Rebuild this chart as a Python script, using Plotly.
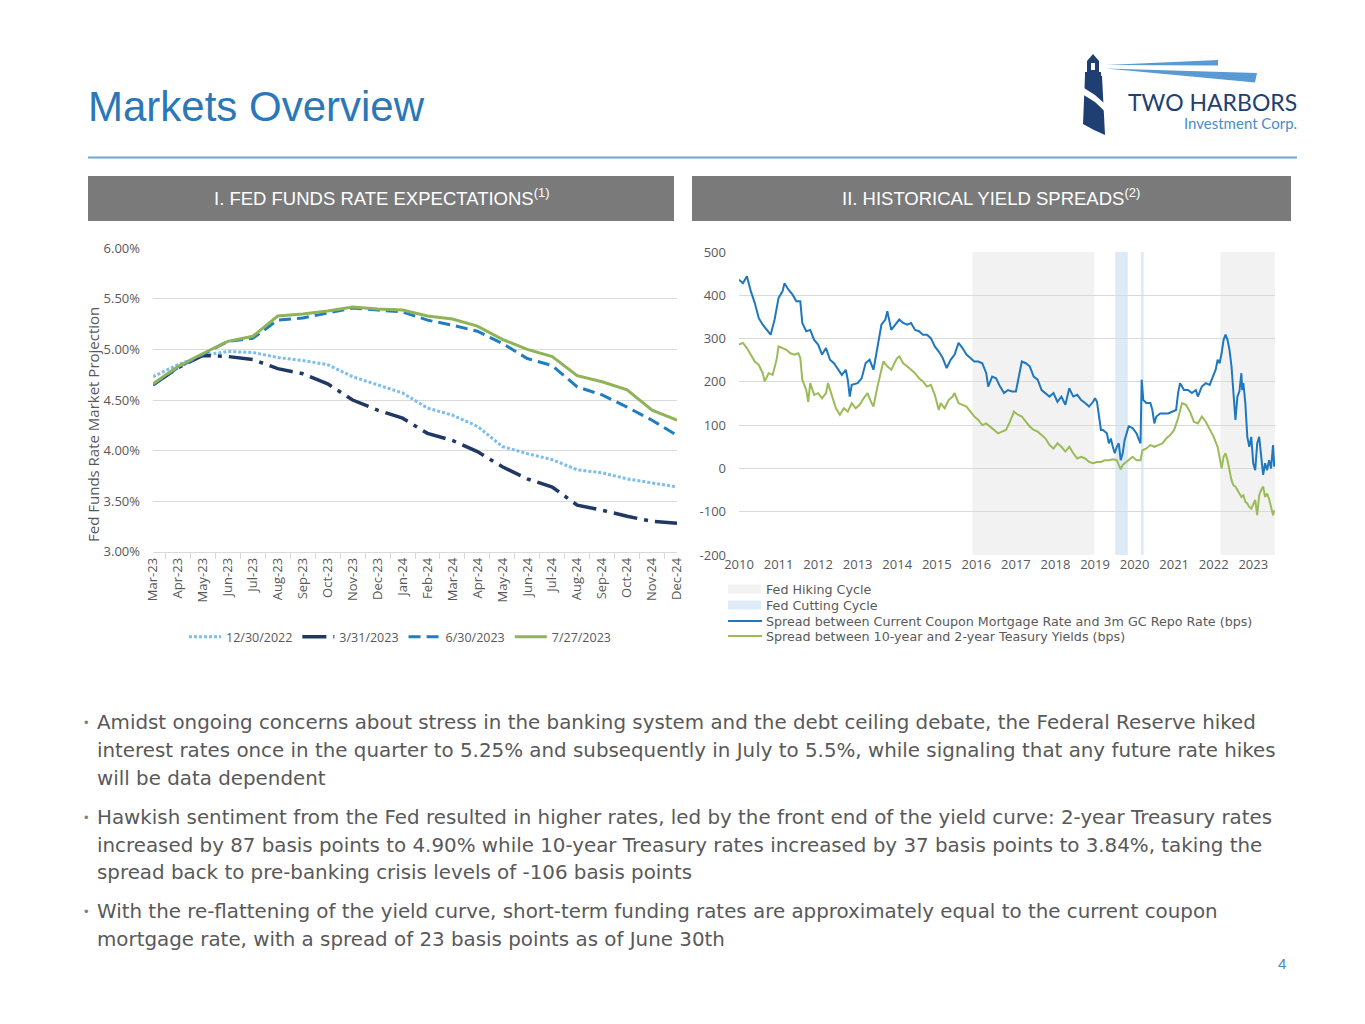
import plotly.graph_objects as go

# The page body adds an 8px margin, so the figure is sized to fill the rest of the window
OFF = 8
W, H = 1365 - OFF, 1024 - OFF

# ---------------- DATA ----------------
months = ["Mar-23", "Apr-23", "May-23", "Jun-23", "Jul-23", "Aug-23", "Sep-23", "Oct-23",
          "Nov-23", "Dec-23", "Jan-24", "Feb-24", "Mar-24", "Apr-24", "May-24", "Jun-24",
          "Jul-24", "Aug-24", "Sep-24", "Oct-24", "Nov-24", "Dec-24"]
fed_1230_2022 = [4.73, 4.85, 4.94, 4.98, 4.97, 4.92, 4.89, 4.85, 4.73, 4.65, 4.57, 4.42,
                 4.35, 4.24, 4.04, 3.97, 3.91, 3.81, 3.78, 3.72, 3.68, 3.64]
fed_0331_2023 = [4.65, 4.82, 4.94, 4.93, 4.90, 4.81, 4.76, 4.66, 4.50, 4.40, 4.32, 4.17,
                 4.10, 3.99, 3.84, 3.72, 3.64, 3.46, 3.41, 3.35, 3.30, 3.28]
fed_0630_2023 = [4.65, 4.82, 4.95, 5.08, 5.11, 5.29, 5.31, 5.36, 5.41, 5.39, 5.37, 5.29,
                 5.24, 5.18, 5.06, 4.91, 4.84, 4.63, 4.55, 4.43, 4.30, 4.15]
fed_0727_2023 = [4.66, 4.83, 4.96, 5.08, 5.13, 5.33, 5.35, 5.38, 5.42, 5.40, 5.39, 5.33,
                 5.30, 5.23, 5.10, 5.00, 4.93, 4.74, 4.68, 4.60, 4.40, 4.30]
fed_ticks = [3.0, 3.5, 4.0, 4.5, 5.0, 5.5, 6.0]

mtg_x = [2010.0, 2010.1, 2010.2, 2010.3, 2010.4, 2010.5, 2010.6, 2010.7, 2010.8, 2010.9,
         2011.0, 2011.1, 2011.15, 2011.25, 2011.35, 2011.45, 2011.55, 2011.6, 2011.7, 2011.8,
         2011.9, 2012.0, 2012.1, 2012.2, 2012.3, 2012.4, 2012.5, 2012.6, 2012.7, 2012.75,
         2012.8, 2012.85, 2013.0, 2013.1, 2013.2, 2013.3, 2013.4, 2013.5, 2013.6, 2013.7,
         2013.75, 2013.85, 2013.95, 2014.05, 2014.15, 2014.25, 2014.35, 2014.45, 2014.55, 2014.65,
         2014.75, 2014.85, 2014.95, 2015.05, 2015.15, 2015.25, 2015.35, 2015.45, 2015.55, 2015.65,
         2015.75, 2015.85, 2015.95, 2016.05, 2016.15, 2016.25, 2016.3, 2016.4, 2016.5, 2016.6,
         2016.7, 2016.8, 2016.9, 2017.0, 2017.1, 2017.15, 2017.25, 2017.35, 2017.45, 2017.55,
         2017.65, 2017.75, 2017.85, 2017.95, 2018.05, 2018.15, 2018.25, 2018.35, 2018.45, 2018.55,
         2018.65, 2018.75, 2018.85, 2018.95, 2019.0, 2019.05, 2019.1, 2019.15, 2019.2, 2019.3,
         2019.35, 2019.4, 2019.45, 2019.5, 2019.55, 2019.6, 2019.65, 2019.7, 2019.75, 2019.85,
         2019.95, 2020.05, 2020.1, 2020.15, 2020.18, 2020.22, 2020.3, 2020.4, 2020.45, 2020.5,
         2020.55, 2020.65, 2020.75, 2020.85, 2020.95, 2021.05, 2021.1, 2021.15, 2021.25, 2021.35,
         2021.45, 2021.55, 2021.6, 2021.7, 2021.8, 2021.9, 2021.95, 2022.05, 2022.1, 2022.15,
         2022.2, 2022.25, 2022.3, 2022.35, 2022.4, 2022.45, 2022.5, 2022.55, 2022.6, 2022.65,
         2022.7, 2022.72, 2022.75, 2022.8, 2022.85, 2022.9, 2022.95, 2023.0, 2023.05, 2023.1,
         2023.15, 2023.2, 2023.25, 2023.3, 2023.35, 2023.4, 2023.45, 2023.5, 2023.53]
mtg_spread = [436, 428, 444, 409, 382, 347, 332, 320, 309, 344,
              394, 409, 428, 413, 402, 386, 386, 336, 317, 320,
              297, 286, 263, 278, 251, 243, 228, 216, 228, 205,
              166, 193, 197, 208, 243, 251, 228, 282, 332, 344,
              363, 320, 332, 344, 336, 332, 336, 320, 317, 309,
              309, 301, 282, 270, 255, 232, 251, 263, 290, 278,
              263, 255, 247, 247, 243, 220, 189, 212, 208, 189,
              174, 181, 178, 178, 228, 247, 243, 236, 212, 205,
              181, 174, 166, 174, 154, 166, 147, 185, 166, 170,
              158, 151, 143, 154, 162, 154, 120, 89, 89, 81,
              58, 69, 50, 35, 50, 58, 19, 35, 66, 97,
              93, 81, 69, 58, 205, 158, 151, 151, 135, 104,
              120, 127, 127, 127, 131, 135, 174, 197, 181, 181,
              174, 181, 166, 189, 197, 193, 205, 228, 251, 243,
              266, 297, 309, 297, 274, 236, 174, 112, 166, 178,
              220, 181, 197, 151, 73, 50, 73, 12, -4, 58,
              73, 19, -15, 12, -4, 19, 0, 54, 4]

tsy_x = [2010.0, 2010.1, 2010.2, 2010.3, 2010.4, 2010.5, 2010.6, 2010.65, 2010.75, 2010.85,
         2010.95, 2011.0, 2011.1, 2011.2, 2011.3, 2011.4, 2011.5, 2011.55, 2011.6, 2011.7,
         2011.75, 2011.8, 2011.9, 2012.0, 2012.1, 2012.2, 2012.25, 2012.35, 2012.45, 2012.55,
         2012.65, 2012.75, 2012.85, 2012.95, 2013.05, 2013.15, 2013.25, 2013.35, 2013.4, 2013.5,
         2013.6, 2013.65, 2013.75, 2013.85, 2013.95, 2014.0, 2014.05, 2014.15, 2014.25, 2014.35,
         2014.45, 2014.55, 2014.65, 2014.75, 2014.85, 2014.95, 2015.05, 2015.1, 2015.2, 2015.3,
         2015.4, 2015.45, 2015.55, 2015.65, 2015.75, 2015.85, 2015.95, 2016.05, 2016.15, 2016.25,
         2016.35, 2016.45, 2016.55, 2016.65, 2016.75, 2016.85, 2016.95, 2017.05, 2017.15, 2017.25,
         2017.35, 2017.45, 2017.55, 2017.65, 2017.75, 2017.85, 2017.95, 2018.05, 2018.15, 2018.25,
         2018.35, 2018.45, 2018.55, 2018.65, 2018.75, 2018.85, 2018.95, 2019.05, 2019.15, 2019.25,
         2019.35, 2019.45, 2019.55, 2019.6, 2019.65, 2019.7, 2019.75, 2019.85, 2019.95, 2020.05,
         2020.15, 2020.2, 2020.3, 2020.4, 2020.5, 2020.6, 2020.7, 2020.8, 2020.9, 2021.0,
         2021.1, 2021.2, 2021.3, 2021.4, 2021.5, 2021.6, 2021.7, 2021.8, 2021.9, 2022.0,
         2022.1, 2022.15, 2022.2, 2022.25, 2022.3, 2022.35, 2022.4, 2022.45, 2022.5, 2022.55,
         2022.6, 2022.65, 2022.7, 2022.75, 2022.8, 2022.85, 2022.9, 2022.95, 2023.05, 2023.1,
         2023.15, 2023.2, 2023.25, 2023.3, 2023.35, 2023.4, 2023.45, 2023.5, 2023.53]
tsy_spread = [286, 290, 278, 263, 247, 239, 220, 201, 220, 216,
              251, 282, 278, 274, 266, 263, 266, 255, 205, 181,
              154, 197, 170, 174, 162, 174, 197, 166, 139, 124,
              139, 131, 151, 139, 147, 162, 174, 151, 143, 189,
              224, 247, 236, 228, 247, 255, 259, 243, 236, 228,
              220, 208, 201, 189, 193, 170, 135, 151, 139, 158,
              166, 174, 151, 147, 143, 131, 120, 112, 100, 104,
              97, 89, 81, 85, 89, 108, 131, 124, 120, 108,
              97, 89, 85, 77, 69, 54, 46, 58, 50, 39,
              50, 35, 23, 27, 23, 15, 12, 15, 15, 19,
              19, 21, 19, 8, -2, 8, 12, 19, 27, 19,
              19, 42, 46, 54, 50, 54, 58, 69, 77, 89,
              116, 151, 147, 131, 108, 104, 120, 108, 89, 73,
              50, 27, 0, 27, 35, 19, -4, -27, -39, -42,
              -50, -58, -66, -62, -77, -81, -89, -93, -73, -108,
              -62, -50, -42, -66, -58, -70, -89, -108, -97]

years = list(range(2010, 2024))
spread_ticks = [-200, -100, 0, 100, 200, 300, 400, 500]
hiking_start = [2015.9, 2022.17]
hiking_end = [2018.98, 2023.55]
cutting_start = [2019.51, 2020.16]
cutting_end = [2019.83, 2020.23]

legend2_names = ["Fed Hiking Cycle", "Fed Cutting Cycle",
                 "Spread between Current Coupon Mortgage Rate and 3m GC Repo Rate (bps)",
                 "Spread between 10-year and 2-year Teasury Yields (bps)"]

bullets = [
    ["Amidst ongoing concerns about stress in the banking system and the debt ceiling debate, the Federal Reserve hiked",
     "interest rates once in the quarter to 5.25% and subsequently in July to 5.5%, while signaling that any future rate hikes",
     "will be data dependent"],
    ["Hawkish sentiment from the Fed resulted in higher rates, led by the front end of the yield curve: 2-year Treasury rates",
     "increased by 87 basis points to 4.90% while 10-year Treasury rates increased by 37 basis points to 3.84%, taking the",
     "spread back to pre-banking crisis levels of -106 basis points"],
    ["With the re-flattening of the yield curve, short-term funding rates are approximately equal to the current coupon",
     "mortgage rate, with a spread of 23 basis points as of June 30th"],
]


# ---------------- HELPERS (window pixels -> paper fractions) ----------------
def px(x):
    return (x - OFF) / W


def py(y):
    return 1 - (y - OFF) / H


def path(points):
    return "M " + " L ".join(f"{px(a):.5f},{py(b):.5f}" for a, b in points) + " Z"


GRAY_TXT = "#595959"
GRID = "#D9D9D9"
C_MTG = "#1F77BE"
C_TSY = "#9BBB59"
C_HIKE = "#F2F2F2"
C_CUT = "#DEEBF7"

fig = go.Figure()

# ---------------- LEFT CHART ----------------
fig.add_trace(go.Scatter(x=months, y=fed_1230_2022, name="12/30/2022", mode="lines",
                         line=dict(color="#7DBEEA", width=3, dash="3px,2px"),
                         xaxis="x", yaxis="y"))
fig.add_trace(go.Scatter(x=months, y=fed_0331_2023, name="3/31/2023", mode="lines",
                         line=dict(color="#1F3864", width=3.5, dash="24px,7px,4px,7px"),
                         xaxis="x", yaxis="y"))
fig.add_trace(go.Scatter(x=months, y=fed_0630_2023, name="6/30/2023", mode="lines",
                         line=dict(color="#1F7DC1", width=3, dash="12px,6px"),
                         xaxis="x", yaxis="y"))
fig.add_trace(go.Scatter(x=months, y=fed_0727_2023, name="7/27/2023", mode="lines",
                         line=dict(color="#8FB356", width=3),
                         xaxis="x", yaxis="y"))

# ---------------- RIGHT CHART ----------------
fig.add_trace(go.Scatter(x=mtg_x, y=mtg_spread, mode="lines", name=legend2_names[2],
                         line=dict(color=C_MTG, width=2), showlegend=False,
                         xaxis="x2", yaxis="y2"))
fig.add_trace(go.Scatter(x=tsy_x, y=tsy_spread, mode="lines", name=legend2_names[3],
                         line=dict(color=C_TSY, width=2), showlegend=False,
                         xaxis="x2", yaxis="y2"))

shapes = []
for s, e in zip(hiking_start, hiking_end):
    shapes.append(dict(type="rect", xref="x2", yref="y2 domain", x0=s, x1=e, y0=0, y1=1,
                       fillcolor=C_HIKE, line=dict(width=0), layer="below"))
for s, e in zip(cutting_start, cutting_end):
    shapes.append(dict(type="rect", xref="x2", yref="y2 domain", x0=s, x1=e, y0=0, y1=1,
                       fillcolor=C_CUT, line=dict(width=0), layer="below"))

annotations = []

# right-chart legend (compact, Excel-like line spacing)
leg_rows = [589, 605, 621, 636]
leg_kinds = [("box", C_HIKE), ("box", C_CUT), ("line", C_MTG), ("line", C_TSY)]
for name, yy, (kind, col) in zip(legend2_names, leg_rows, leg_kinds):
    if kind == "box":
        shapes.append(dict(type="rect", xref="paper", yref="paper", x0=px(728), x1=px(761),
                           y0=py(yy + 4.5), y1=py(yy - 4.5), fillcolor=col, line=dict(width=0)))
    else:
        shapes.append(dict(type="line", xref="paper", yref="paper", x0=px(728), x1=px(762),
                           y0=py(yy), y1=py(yy), line=dict(color=col, width=2)))
    annotations.append(dict(text=name, xref="paper", yref="paper", x=px(764), y=py(yy),
                            xanchor="left", yanchor="middle", showarrow=False,
                            font=dict(family="DejaVu Sans, sans-serif", size=12.7, color=GRAY_TXT)))

# ---------------- SLIDE DECORATION ----------------
shapes.append(dict(type="line", xref="paper", yref="paper", x0=px(88), x1=px(1297),
                   y0=py(157.5), y1=py(157.5), line=dict(color="#6FA8D6", width=2)))
shapes.append(dict(type="rect", xref="paper", yref="paper", x0=px(88), x1=px(674),
                   y0=py(221), y1=py(176), fillcolor="#7A7A7A", line=dict(width=0)))
shapes.append(dict(type="rect", xref="paper", yref="paper", x0=px(692), x1=px(1291),
                   y0=py(221), y1=py(176), fillcolor="#7A7A7A", line=dict(width=0)))
BEAM = "#5A9AD2"
NAVY = "#1F3F73"
shapes.append(dict(type="path", xref="paper", yref="paper",
                   path=path([(1106, 65), (1218, 60), (1218, 65.5)]),
                   fillcolor=BEAM, line=dict(width=0)))
shapes.append(dict(type="path", xref="paper", yref="paper",
                   path=path([(1106, 68.5), (1257, 73), (1255, 82.5)]),
                   fillcolor=BEAM, line=dict(width=0)))
shapes.append(dict(type="path", xref="paper", yref="paper",
                   path=path([(1093, 54), (1099, 61), (1099, 72), (1101, 72), (1101, 76),
                              (1102, 76), (1105, 135), (1094, 130), (1083, 124), (1085, 76),
                              (1085, 72), (1087, 72), (1087, 61)]),
                   fillcolor=NAVY, line=dict(width=0)))
shapes.append(dict(type="path", xref="paper", yref="paper",
                   path=path([(1084, 88), (1095, 95), (1104, 103), (1104.4, 111),
                              (1095, 102), (1083.7, 95)]),
                   fillcolor="white", line=dict(width=0)))
shapes.append(dict(type="rect", xref="paper", yref="paper", x0=px(1091), x1=px(1095),
                   y0=py(70), y1=py(63), fillcolor="white", line=dict(width=0)))

annotations.append(dict(text="Markets Overview", xref="paper", yref="paper", x=px(86), y=py(106),
                        xanchor="left", yanchor="middle", showarrow=False,
                        font=dict(family="Liberation Sans, Arial, sans-serif", size=42, color="#2A78B8")))
annotations.append(dict(text="TWO HARBORS", xref="paper", yref="paper", x=px(1299), y=py(102),
                        xanchor="right", yanchor="middle", showarrow=False,
                        font=dict(family="Lato, sans-serif", size=23, color=NAVY)))
annotations.append(dict(text="Investment Corp.", xref="paper", yref="paper", x=px(1299), y=py(123),
                        xanchor="right", yanchor="middle", showarrow=False,
                        font=dict(family="Lato, sans-serif", size=15, color="#4A8CC4")))
HDR_FONT = dict(family="Liberation Sans, Arial, sans-serif", size=18.5, color="white")
annotations.append(dict(text="I. FED FUNDS RATE EXPECTATIONS<sup>(1)</sup>", xref="paper", yref="paper",
                        x=px(381), y=py(197), xanchor="center", yanchor="middle", showarrow=False,
                        font=HDR_FONT))
annotations.append(dict(text="II. HISTORICAL YIELD SPREADS<sup>(2)</sup>", xref="paper", yref="paper",
                        x=px(991), y=py(197), xanchor="center", yanchor="middle", showarrow=False,
                        font=HDR_FONT))
annotations.append(dict(text="Fed Funds Rate Market Projection", xref="paper", yref="paper",
                        x=px(93), y=py(425), xanchor="center", yanchor="middle", textangle=-90,
                        showarrow=False, font=dict(family="Open Sans, sans-serif", size=15, color=GRAY_TXT)))
BODY_FONT = dict(family="DejaVu Sans, sans-serif", size=19.85, color=GRAY_TXT)
line_y = [[722, 750, 778], [817, 845, 872], [911, 939]]
for para, ys in zip(bullets, line_y):
    annotations.append(dict(text="•", xref="paper", yref="paper", x=px(82), y=py(ys[0]),
                            xanchor="left", yanchor="middle", showarrow=False,
                            font=dict(family="Liberation Sans, Arial", size=13, color="#7F7F7F")))
    for txt, yy in zip(para, ys):
        annotations.append(dict(text=txt, xref="paper", yref="paper", x=px(95), y=py(yy),
                                xanchor="left", yanchor="middle", showarrow=False, font=BODY_FONT))
annotations.append(dict(text="4", xref="paper", yref="paper", x=px(1282), y=py(963),
                        xanchor="center", yanchor="middle", showarrow=False,
                        font=dict(family="Liberation Sans, Arial", size=15, color="#4A8CC4")))

fig.update_layout(
    width=W, height=H, margin=dict(l=0, r=0, t=0, b=0, pad=0, autoexpand=False),
    paper_bgcolor="white", plot_bgcolor="rgba(0,0,0,0)",
    font=dict(family="Open Sans, sans-serif", color=GRAY_TXT),
    xaxis=dict(domain=[px(153), px(677)], type="category", tickangle=-90,
               showgrid=False, showline=True, linecolor=GRID, ticks="outside",
               tickson="boundaries", ticklen=6, tickcolor=GRID, automargin=False,
               tickfont=dict(size=13, color=GRAY_TXT), anchor="y"),
    yaxis=dict(domain=[py(551.7), py(248.3)], range=[3.0, 6.0], tickvals=fed_ticks,
               ticktext=[f"{v:.2f}%" for v in fed_ticks], showgrid=True, gridcolor=GRID,
               zeroline=False, showline=False, tickfont=dict(size=13, color=GRAY_TXT),
               anchor="x", ticklabelstandoff=12, automargin=False),
    xaxis2=dict(domain=[px(739), px(1275)], range=[2010, 2023.55], tickvals=years,
                ticktext=[str(y) for y in years], showgrid=False, zeroline=False,
                showline=False, tickfont=dict(size=13, color=GRAY_TXT), anchor="y2",
                automargin=False),
    yaxis2=dict(domain=[py(555), py(252)], range=[-200, 500], tickvals=spread_ticks,
                ticktext=[str(v) for v in spread_ticks],
                showgrid=True, gridcolor=GRID, zeroline=False, showline=False,
                tickfont=dict(size=13, color=GRAY_TXT), anchor="x2", ticklabelstandoff=12,
                automargin=False),
    legend=dict(orientation="h", x=px(400), y=py(637), xanchor="center", yanchor="middle",
                font=dict(size=12.5, color=GRAY_TXT), bgcolor="rgba(0,0,0,0)", itemwidth=32,
                traceorder="normal"),
    shapes=shapes, annotations=annotations, showlegend=True,
)

fig.write_html("out.html")
